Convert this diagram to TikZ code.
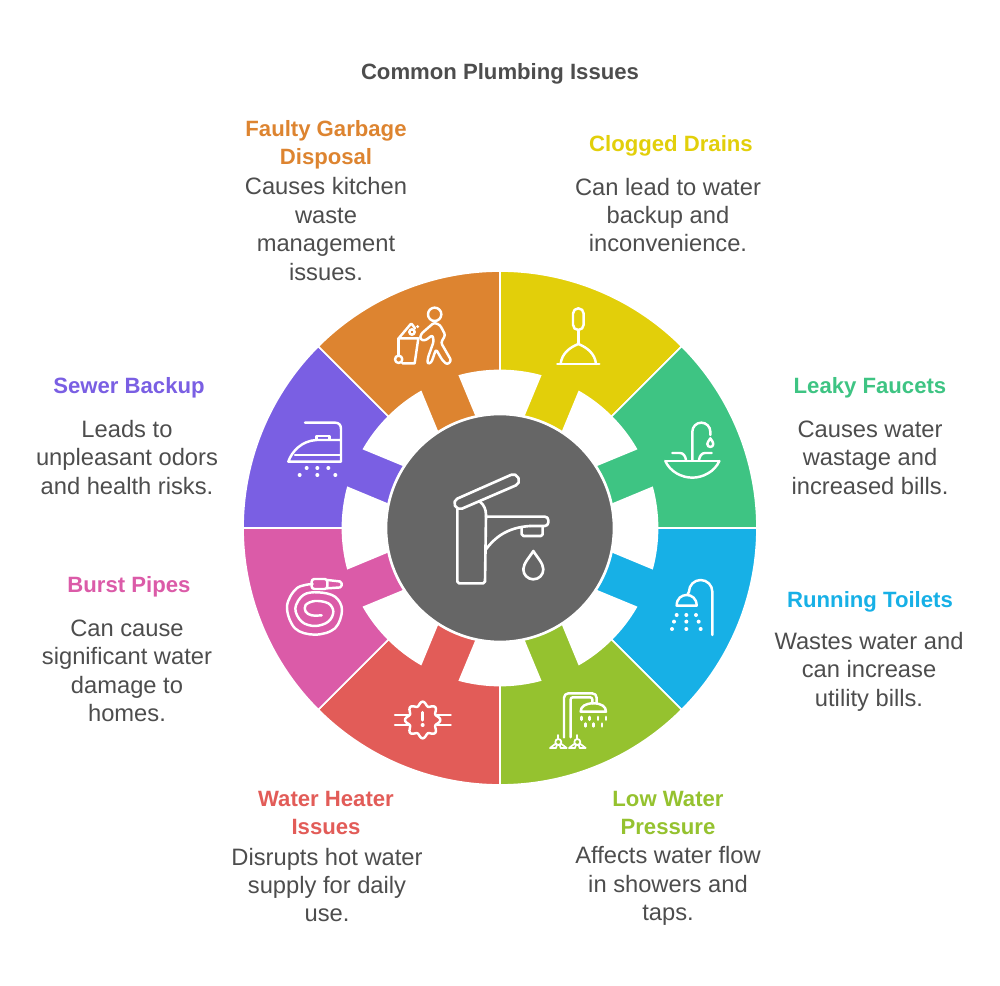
\documentclass[tikz,border=0pt]{standalone}
\usepackage{fontspec}
\setmainfont{Liberation Sans}
\definecolor{drainYellow}{HTML}{E2CF0A}
\definecolor{faucetGreen}{HTML}{3EC483}
\definecolor{toiletBlue}{HTML}{17B0E6}
\definecolor{pressureLime}{HTML}{95C22F}
\definecolor{heaterRed}{HTML}{E25C58}
\definecolor{pipePink}{HTML}{DB5BA8}
\definecolor{sewerPurple}{HTML}{7A5FE3}
\definecolor{disposalOrange}{HTML}{DD8430}
\definecolor{hubGray}{HTML}{666666}
\definecolor{textGray}{HTML}{4D4D4D}
\tikzset{
  headtext/.style={font=\fontsize{12.6pt}{16.2pt}\selectfont\bfseries, align=center},
  bodytext/.style={font=\fontsize{13.5pt}{16.2pt}\selectfont, text=textGray, align=center},
  iconline/.style={draw=white, line width=1.4pt, line cap=round, line join=round},
  icondot/.style={fill=white, draw=none}
}
\begin{document}
\begin{tikzpicture}[x=0.02cm, y=0.02cm]
  \useasboundingbox (-500,-458) rectangle (500,528);
  % the ring of sectors, each with a tab to the hub
  \foreach \a/\colr in {45/drainYellow, 0/faucetGreen, -45/toiletBlue, -90/pressureLime,
                        -135/heaterRed, 180/pipePink, 135/sewerPurple, 90/disposalOrange} {
    \filldraw[fill=\colr, draw=white, line width=1pt, rotate=\a]
      (0:257) arc (0:45:257) -- (45:157.5) arc (45:30.14:157.5)
      -- (33.5:110) -- (11.5:110) -- (14.86:157.5) arc (14.86:0:157.5) -- cycle;
  }
  \draw[fill=hubGray, draw=white, line width=1.5pt] (0,0) circle (114);
  % from here on: coordinates
  \begin{scope}[shift={(-500,528)}, yscale=-1]
    \node[headtext, text=textGray] (title) at (500,73.5) {Common Plumbing Issues};
    \foreach \nm/\colr/\tx/\ty/\ttl/\bx/\by/\bodytxt in {
      disposal/disposalOrange/326/145/{Faulty Garbage\\Disposal}/326/229/{Causes kitchen\\waste\\management\\issues.},
      drains/drainYellow/671/146/{Clogged Drains}/668/215/{Can lead to water\\backup and\\inconvenience.},
      faucets/faucetGreen/870/388/{Leaky Faucets}/870/457.5/{Causes water\\wastage and\\increased bills.},
      toilets/toiletBlue/870/602/{Running Toilets}/869/671.5/{Wastes water and\\can increase\\utility bills.},
      pressure/pressureLime/668/813/{Low Water\\Pressure}/668/886/{Affects water flow\\in showers and\\taps.},
      heater/heaterRed/326/813/{Water Heater\\Issues}/327/885/{Disrupts hot water\\supply for daily\\use.},
      burst/pipePink/129/587/{Burst Pipes}/127/671/{Can cause\\significant water\\damage to\\homes.},
      sewer/sewerPurple/129/388/{Sewer Backup}/127/457.5/{Leads to\\unpleasant odors\\and health risks.}} {
      \node[headtext, text=\colr] (\nm-head) at (\tx,\ty) {\ttl};
      \node[bodytext] (\nm-body) at (\bx,\by) {\bodytxt};
    }
    % plunger and person with bin
    \begin{scope}[shift={(340,270)}, scale=1/3]
      \draw[iconline, rounded corners=3pt] (699,115) rectangle (731,180);
      \draw[iconline] (715,180) -- (715,222);
      \draw[iconline] (662,282) .. controls (665,250) and (690,232) .. (715,222)
        .. controls (740,232) and (765,250) .. (768,282);
      \draw[iconline] (652,282) -- (778,282);
      \draw[iconline] (284,133) circle (20);
      \draw[iconline] (176,268) circle (11);
      \draw[iconline] (176,205) -- (235,205) -- (224,280) -- (187,280);
      \draw[iconline] (176,205) -- (176,257);
      \draw[iconline, rounded corners=0.5pt] (176,205) -- (214,160) -- (225,175);
      \draw[iconline] (216,186) circle (8);
      \fill[icondot] (233,170) circle (5);
      \draw[iconline, rounded corners=1.3pt] (282,158) -- (300,165) -- (316,195) -- (303,218)
        -- (334,272) -- (322,284) -- (308,272) -- (288,238) -- (274,278) -- (262,282) -- (264,262)
        -- (281,215) -- (278,195) -- (255,212) -- (240,208) -- (243,192) -- cycle;
    \end{scope}
    % sink and shower head
    \begin{scope}[shift={(600,380)}, scale=1/3]
      \draw[iconline] (196,243) -- (358,243);
      \draw[iconline] (196,243) .. controls (210,275) and (245,293) .. (277,293)
        .. controls (309,293) and (344,275) .. (358,243);
      \draw[iconline] (277,240) -- (277,155) arc (180:360:27) -- (331,165);
      \draw[iconline] (331,175) .. controls (326,183) and (322,187) .. (322,192)
        arc (180:0:9) .. controls (340,187) and (336,183) .. (331,175) -- cycle;
      \draw[iconline] (217,219) -- (240,219) .. controls (250,219) and (256,228) .. (258,240);
      \draw[iconline] (335,219) -- (315,219) .. controls (305,219) and (299,228) .. (297,240);
      \draw[iconline] (337,765) -- (337,635) arc (360:180:35) -- (262,645);
      \draw[iconline] (230,677) -- (290,677) .. controls (290,655) and (275,645) .. (260,645)
        .. controls (245,645) and (230,655) .. (230,677) -- cycle;
      \foreach \x/\y in {230/705, 259/705, 288/705, 222/725, 259/725, 296/725, 216/747, 259/747, 302/747} {
        \fill[icondot] (\x,\y) circle (6);
      }
    \end{scope}
    % burst pipe and double shower
    \begin{scope}[shift={(380,680)}, scale=1/3]
      \draw[iconline] plot[domain=0:360, samples=97, smooth] ({128+(47+6*cos(8*\x))*cos(\x)}, {120+(49+6*cos(8*\x))*sin(\x)});
      \foreach \y in {105,135} {
        \draw[iconline] (45,\y) -- (85,\y);
        \draw[iconline] (172,\y) -- (212,\y);
      }
      \draw[iconline, line width=1.8pt] (128,97) -- (128,120);
      \fill[icondot] (128,135) circle (6);
      \draw[iconline, rounded corners=2.5pt] (552,172) -- (552,40) -- (650,40) -- (650,70);
      \draw[iconline, rounded corners=1.2pt] (572,172) -- (572,52) -- (637,52) -- (637,70);
      \draw[iconline] (602,95) -- (678,95) .. controls (678,80) and (665,70) .. (640,70)
        .. controls (615,70) and (602,80) .. (602,95) -- cycle;
      \foreach \x in {604,628,654,678} {\draw[iconline, line width=1.6pt] (\x,111) -- (\x,119);}
      \foreach \x in {616,640,666} {\draw[iconline, line width=1.6pt] (\x,131) -- (\x,139);}
      \foreach \x in {535,592} {
        \draw[iconline, line width=1pt] (\x,186) circle (9);
        \draw[iconline, line width=1pt] (\x,177) -- (\x,165);
        \draw[iconline, line width=1pt] (\x-8,191) -- (\x-25,204) -- (\x-7,204) -- (\x-4,194);
        \draw[iconline, line width=1pt] (\x+8,191) -- (\x+25,204) -- (\x+7,204) -- (\x+4,194);
      }
    \end{scope}
    % iron and hose
    \begin{scope}[shift={(240,380)}, scale=1/3]
      \draw[iconline] (195,128) -- (285,128) .. controls (297,128) and (303,135) .. (303,147) -- (303,245)
        -- (145,245) .. controls (155,215) and (185,182) .. (230,180) -- (303,180);
      \draw[iconline] (165,225) -- (303,225);
      \draw[iconline] (230,178) -- (230,168) -- (268,168) -- (268,178);
      \foreach \x/\y in {200/264, 232/264, 265/264, 179/285, 232/285, 286/285} {
        \fill[icondot] (\x,\y) circle (6);
      }
      \draw[iconline] plot[smooth, tension=0.6] coordinates {(218,612) (170,625) (141,680) (165,745) (225,764)
        (285,745) (306,690) (285,650) (235,637) (190,645) (166,685) (185,725) (225,738) (265,725)
        (280,695) (265,670) (225,663) (197,675) (197,695) (215,706) (245,706)};
      \draw[iconline, rounded corners=1.5pt] (215,597) rectangle (262,627);
      \draw[iconline, rounded corners=1pt] (262,600) -- (305,605) -- (305,622) -- (262,625);
    \end{scope}
    % faucet in the hub
    \begin{scope}[shift={(430,450)}, scale=1/3]
      \draw[iconline, line width=1.5pt, rounded corners=3pt] (68,152) -- (258,68) -- (272,100) -- (82,182) -- cycle;
      \draw[iconline, line width=1.5pt, rounded corners=1pt] (82,178) -- (82,400) -- (165,400) -- (168,195);
      \draw[iconline, line width=1.5pt] (150,155) .. controls (162,165) and (168,178) .. (168,195);
      \draw[iconline, line width=1.5pt, rounded corners=2pt] (168,200) -- (355,200) -- (355,228) -- (300,228);
      \draw[iconline, line width=1.5pt] (300,228) .. controls (240,232) and (200,255) .. (168,298);
      \draw[iconline, line width=1.5pt, rounded corners=1pt] (275,235) -- (275,258) -- (338,258) -- (338,230);
      \draw[iconline, line width=1.5pt] (310,303) .. controls (300,320) and (280,340) .. (280,358)
        arc (180:0:30) .. controls (340,340) and (320,320) .. (310,303) -- cycle;
    \end{scope}
  \end{scope}
\end{tikzpicture}
\end{document}
